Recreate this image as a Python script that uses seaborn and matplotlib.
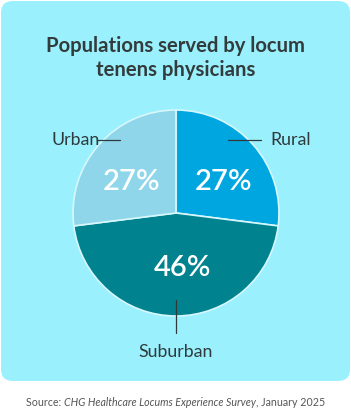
import matplotlib
matplotlib.use("Agg")
import matplotlib.pyplot as plt
from matplotlib.patches import FancyBboxPatch
import seaborn as sns

# data
categories = ["Rural", "Suburban", "Urban"]
shares = [27, 46, 27]
pct_labels = ["27%", "46%", "27%"]
colors = ["#00a6e0", "#00838f", "#8fd6ea"]

sns.set_style("white")
plt.rcParams["font.family"] = ["Lato", "DejaVu Sans"]

W, H = 351, 412
fig = plt.figure(figsize=(W / 100, H / 100), dpi=100)
fig.patch.set_facecolor("white")

# background card (in its own axes so it sits behind the pie)
bg = fig.add_axes([0, 0, 1, 1], zorder=-1)
bg.set_xlim(0, W)
bg.set_ylim(H, 0)
bg.axis("off")
bg.add_patch(FancyBboxPatch((1, 1), W - 2, 380,
                            boxstyle="round,pad=0,rounding_size=12",
                            facecolor="#9bf0fd", edgecolor="none"))

fig.text(0.5, 1 - 58 / H, "Populations served by locum\ntenens physicians",
         ha="center", va="center", fontsize=14.6, fontweight="bold",
         color="#333c3d", linespacing=1.3)

# pie axes: centre (176, 213) px, radius 103 px
cx, cy, r = 176, 213, 103
ax = fig.add_axes([(cx - r * 1.6) / W, (H - cy - r * 1.6) / H, 3.2 * r / W, 3.2 * r / H])
ax.pie(shares, colors=colors, startangle=90, counterclock=False, radius=1,
       wedgeprops=dict(edgecolor="#d6f8fd", linewidth=1.2))
ax.set_xlim(-1.6, 1.6)
ax.set_ylim(-1.6, 1.6)
ax.set_aspect("equal")
ax.axis("off")

# percentages
pct_pos = [(0.46, 0.30), (0.06, -0.53), (-0.43, 0.30)]
for txt, (x, y) in zip(pct_labels, pct_pos):
    ax.text(x, y, txt, ha="center", va="center", color="white",
            fontsize=21, fontweight="semibold")

# leader lines and category labels
lc = "#2e3a3b"
ax.plot([0.50, 0.83], [0.71, 0.71], color=lc, lw=0.9)
ax.text(0.92, 0.71, categories[0], ha="left", va="center", fontsize=12.8, color=lc)
ax.plot([0, 0], [-0.845, -1.165], color=lc, lw=0.9)
ax.text(0, -1.35, categories[1], ha="center", va="center", fontsize=12.8, color=lc)
ax.plot([-0.77, -0.54], [0.71, 0.71], color=lc, lw=0.9)
ax.text(-0.74, 0.71, categories[2], ha="right", va="center", fontsize=12.8, color=lc)

# source line with mixed styles, centred
y_src = 1 - 403 / H
parts = [("Source: ", "normal"), ("CHG Healthcare Locums Experience Survey", "italic"),
         (", January 2025", "normal")]
renderer = fig.canvas.get_renderer()
pieces, widths = [], []
for s, st in parts:
    t = fig.text(0, y_src, s, fontsize=7.7, style=st, color="#555555", va="center")
    widths.append(t.get_window_extent(renderer=renderer).width)
    pieces.append(t)
x0 = (W - sum(widths)) / 2
for t, w in zip(pieces, widths):
    t.set_x(x0 / W)
    x0 += w

fig.savefig("out.png", dpi=100, facecolor="white")
